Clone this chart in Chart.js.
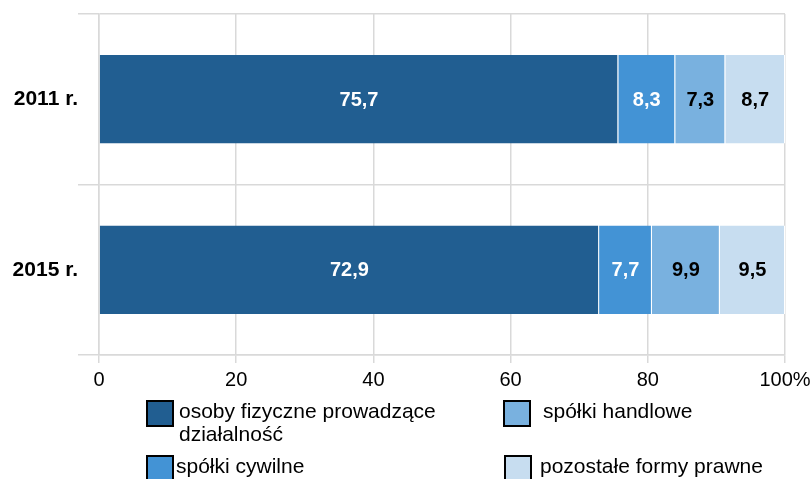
<!DOCTYPE html>
<html>
<head>
<meta charset="utf-8">
<script src="https://cdn.jsdelivr.net/npm/chart.js@4/dist/chart.umd.min.js"></script>
<style>
  body { margin: 0; background: #fff; font-family: "Liberation Sans", Arial, sans-serif; }
  #wrap { position: relative; width: 812px; height: 479px; overflow: hidden; }
  .leg { position: absolute; font-size: 21px; line-height: 23px; color: #000; }
  .box { position: absolute; width: 24px; height: 23px; border: 2px solid #000; }
</style>
</head>
<body>
<div id="wrap">
  <canvas id="chart" width="812" height="479"></canvas>
  <div id="legend"></div>
</div>
<script>
const years = ['2011 r.', '2015 r.'];
const seriesNames = ['osoby fizyczne prowadzące działalność', 'spółki cywilne', 'spółki handlowe', 'pozostałe formy prawne'];
const osobyFizyczne = [75.7, 72.9];
const spolkiCywilne = [8.3, 7.7];
const spolkiHandlowe = [7.3, 9.9];
const pozostale = [8.7, 9.5];
const xTicks = [0, 20, 40, 60, 80, 100];

const colors = ['#215e91', '#4393d5', '#79b1df', '#c7ddf0'];
const labelColors = ['#fff', '#fff', '#000', '#000'];
const allValues = [osobyFizyczne, spolkiCywilne, spolkiHandlowe, pozostale];

// value labels inside the segments
const valueLabels = {
    id: 'valueLabels',
    afterDatasetsDraw(chart) {
        const ctx = chart.ctx;
        ctx.save();
        ctx.font = 'bold 20px "Liberation Sans", Arial, sans-serif';
        ctx.textAlign = 'center';
        ctx.textBaseline = 'middle';
        chart.data.datasets.forEach((ds, i) => {
            chart.getDatasetMeta(i).data.forEach((bar, j) => {
                const mid = (bar.x + bar.base) / 2;
                ctx.fillStyle = labelColors[i];
                ctx.fillText(ds.data[j].toFixed(1).replace('.', ','), mid, bar.y + 1);
            });
        });
        ctx.restore();
    }
};

new Chart(document.getElementById('chart'), {
    type: 'bar',
    data: {
        labels: years,
        datasets: allValues.map((vals, i) => ({
            label: seriesNames[i],
            data: vals,
            backgroundColor: colors[i],
            borderColor: '#ffffff',
            borderWidth: { left: 0, right: 1, top: 0, bottom: 0 },
            barPercentage: 0.52,
            categoryPercentage: 1
        }))
    },
    options: {
        indexAxis: 'y',
        responsive: false,
        animation: false,
        layout: { padding: { top: 14, right: 27, bottom: 80, left: 0 } },
        plugins: { legend: { display: false }, tooltip: { enabled: false } },
        scales: {
            x: {
                stacked: true,
                min: 0,
                max: 100,
                afterBuildTicks: axis => { axis.ticks = xTicks.map(v => ({ value: v })); },
                afterFit: axis => {
                    axis.height = 44;
                    axis.paddingLeft = 0;
                    axis.paddingRight = 0;
                },
                grid: { color: '#d9d9d9', lineWidth: 1.5, tickLength: 8 },
                border: { color: '#d9d9d9', width: 1.5 },
                ticks: {
                    color: '#000',
                    padding: 5,
                    font: { family: '"Liberation Sans", Arial, sans-serif', size: 20 },
                    callback: v => v === 100 ? '100%' : v
                }
            },
            y: {
                stacked: true,
                afterFit: axis => { axis.width = 99; },
                grid: { color: '#d9d9d9', lineWidth: 1.5, tickLength: 21, offset: true },
                border: { color: '#d9d9d9', width: 1.5 },
                ticks: {
                    color: '#000',
                    padding: 0,
                    font: { family: '"Liberation Sans", Arial, sans-serif', size: 21, weight: 'bold' }
                }
            }
        }
    },
    plugins: [valueLabels]
});

// legend in two columns, filled column by column
const legendItems = [
    { i: 0, boxX: 146, textX: 179, y: 400, text: 'osoby fizyczne prowadzące<br>działalność' },
    { i: 2, boxX: 503, textX: 543, y: 400, text: seriesNames[2] },
    { i: 1, boxX: 146, textX: 176, y: 455, text: seriesNames[1] },
    { i: 3, boxX: 504, textX: 540, y: 455, text: seriesNames[3] }
];
const legend = document.getElementById('legend');
legendItems.forEach(item => {
    const box = document.createElement('div');
    box.className = 'box';
    box.style.left = item.boxX + 'px';
    box.style.top = item.y + 'px';
    box.style.background = colors[item.i];
    legend.appendChild(box);
    const txt = document.createElement('div');
    txt.className = 'leg';
    txt.style.left = item.textX + 'px';
    txt.style.top = (item.y - 1) + 'px';
    txt.innerHTML = item.text;
    legend.appendChild(txt);
});
</script>
</body>
</html>
